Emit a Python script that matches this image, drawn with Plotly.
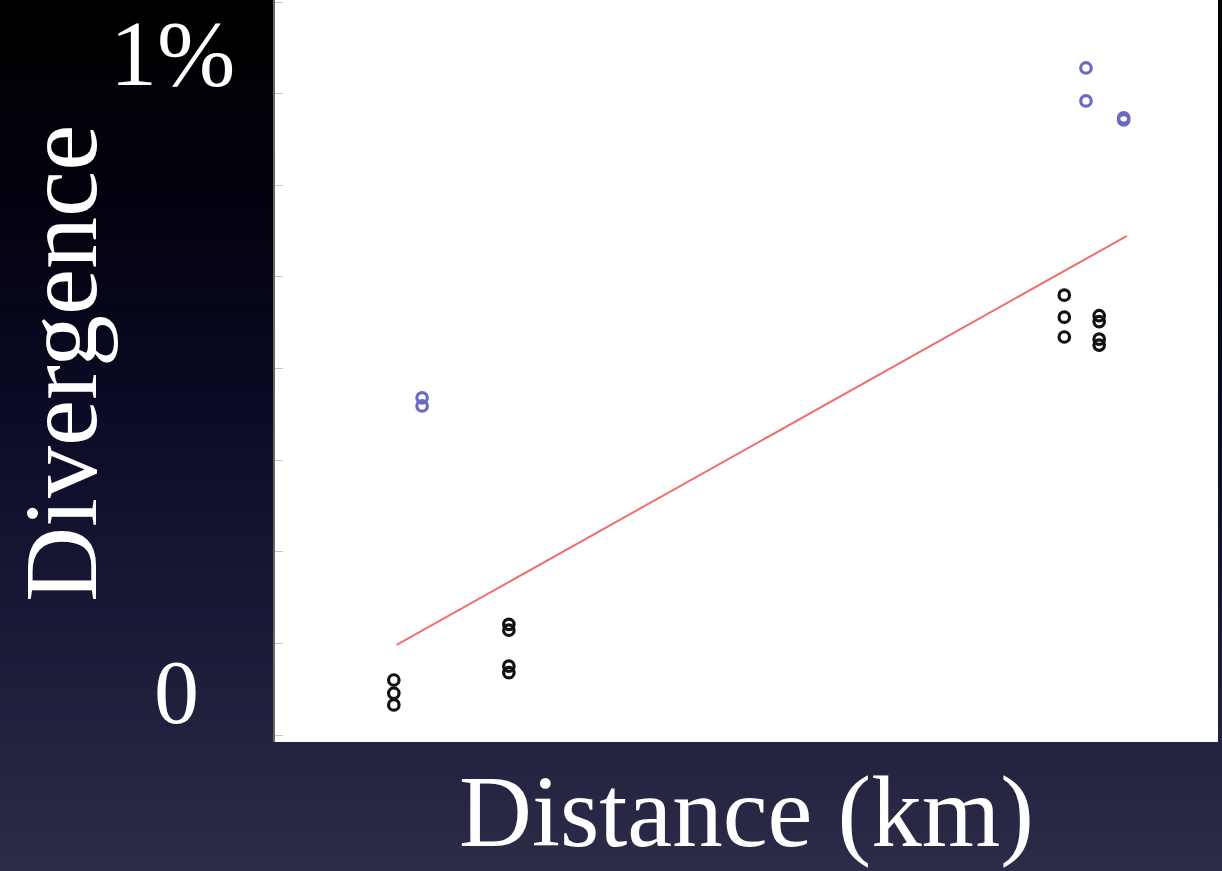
import plotly.graph_objects as go

# ---- data ----
black_x = [12.6, 12.6, 12.6, 24.8, 24.8, 24.8, 24.8,
           83.7, 83.7, 83.7, 87.4, 87.4, 87.4, 87.4]
black_y = [0.075, 0.057, 0.041, 0.151, 0.143, 0.094, 0.085,
           0.600, 0.570, 0.543, 0.572, 0.564, 0.540, 0.532]
blue_x = [15.6, 15.6, 86.0, 86.0, 90.0, 90.0]
blue_y = [0.460, 0.449, 0.910, 0.865, 0.842, 0.839]
fit_x = [12.9, 90.35]
fit_y = [0.123, 0.681]
y_ticks = [0, 0.125, 0.25, 0.375, 0.5, 0.625, 0.75, 0.875, 1.0]

W, H = 1222, 871
L, R, T, B = 275, 4, 0, 129
PW, PH = W - L - R, H - T - B


def px_x(p):
    return (p - L) / PW


def px_y(p):
    return (H - B - p) / PH


fig = go.Figure()
fig.add_trace(go.Scatter(x=fit_x, y=fit_y, mode="lines",
                         line=dict(color="#ee7070", width=2), hoverinfo="skip"))
fig.add_trace(go.Scatter(x=black_x, y=black_y, mode="markers",
                         marker=dict(symbol="circle-open", size=10.5, color="#111111",
                                     line=dict(width=3.2, color="#111111"))))
fig.add_trace(go.Scatter(x=blue_x, y=blue_y, mode="markers",
                         marker=dict(symbol="circle-open", size=10.5, color="#6a6abf",
                                     line=dict(width=3.2, color="#6a6abf"))))

# background gradient (outside plot area) built from horizontal bands
stops = [(0, (0, 0, 0)), (200, (2, 2, 14)), (400, (10, 10, 36)),
         (600, (24, 24, 54)), (871, (44, 44, 72))]


def col_at(p):
    for (p0, c0), (p1, c1) in zip(stops[:-1], stops[1:]):
        if p0 <= p <= p1:
            t = (p - p0) / (p1 - p0)
            return "rgb(%d,%d,%d)" % tuple(round(a + (b - a) * t) for a, b in zip(c0, c1))
    return "rgb(44,44,72)"


shapes = []
n = 80
for i in range(n):
    y0p = H * i / n
    y1p = H * (i + 1) / n + 1
    c = col_at((y0p + y1p) / 2)
    yy0, yy1 = px_y(y1p), px_y(y0p)
    if y0p >= H - B:
        shapes.append(dict(type="rect", xref="paper", yref="paper", x0=px_x(0), x1=px_x(W),
                           y0=yy0, y1=yy1, fillcolor=c, line=dict(width=0), layer="below"))
    else:
        shapes.append(dict(type="rect", xref="paper", yref="paper", x0=px_x(0), x1=0,
                           y0=yy0, y1=yy1, fillcolor=c, line=dict(width=0), layer="below"))
        shapes.append(dict(type="rect", xref="paper", yref="paper", x0=1, x1=px_x(W),
                           y0=yy0, y1=yy1, fillcolor=c, line=dict(width=0), layer="below"))
        if y1p > H - B:
            shapes.append(dict(type="rect", xref="paper", yref="paper", x0=0, x1=1,
                               y0=yy0, y1=0, fillcolor=c, line=dict(width=0), layer="below"))

font = "Liberation Serif, Times New Roman, serif"
annotations = [
    dict(text="Distance (km)", xref="paper", yref="paper", x=px_x(746), y=px_y(812),
         xanchor="center", yanchor="middle", showarrow=False,
         font=dict(family=font, size=101, color="white")),
    dict(text="Divergence", xref="paper", yref="paper", x=px_x(60), y=px_y(364),
         xanchor="center", yanchor="middle", showarrow=False, textangle=-90,
         font=dict(family=font, size=104, color="white")),
    dict(text="1%", xref="paper", yref="paper", x=px_x(172), y=px_y(53),
         xanchor="center", yanchor="middle", showarrow=False,
         font=dict(family=font, size=94, color="white")),
    dict(text="0", xref="paper", yref="paper", x=px_x(176), y=px_y(692),
         xanchor="center", yanchor="middle", showarrow=False,
         font=dict(family=font, size=90, color="white")),
]

fig.update_layout(
    width=W, height=H,
    margin=dict(l=L, r=R, t=T, b=B, pad=0),
    paper_bgcolor="#000000", plot_bgcolor="white",
    showlegend=False,
    shapes=shapes, annotations=annotations,
    xaxis=dict(range=[0, 100], showgrid=False, zeroline=False, showticklabels=False,
               ticks="", showline=False, fixedrange=True),
    yaxis=dict(range=[-7 / 733, 1 + 2 / 733], showgrid=False, zeroline=False,
               showticklabels=False, tickvals=y_ticks, ticks="inside", ticklen=8,
               tickcolor="#c8c8c8", tickwidth=1, showline=True, linecolor="#666666",
               linewidth=2, fixedrange=True),
)

fig.write_html(
    "out.html",
    config={"displayModeBar": False},
    post_script="document.body.style.margin='0';document.body.style.padding='0';"
                "document.documentElement.style.overflow='hidden';",
)
